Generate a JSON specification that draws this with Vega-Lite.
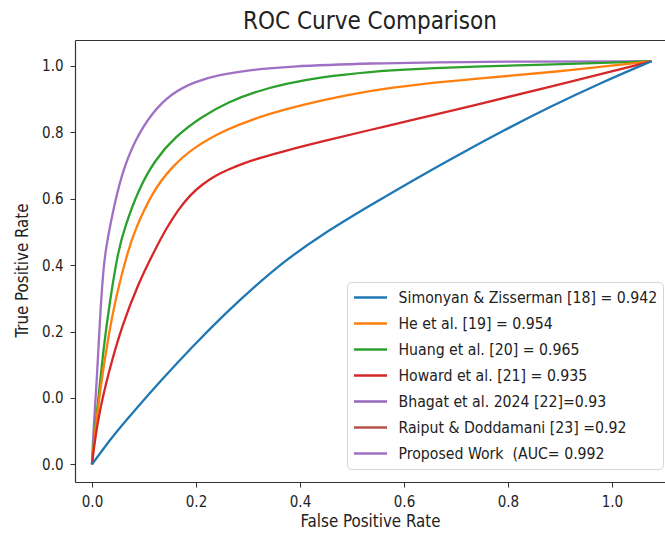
{
  "$schema": "https://vega.github.io/schema/vega-lite/v6.json",
  "autosize": "none",
  "width": 590,
  "height": 442,
  "padding": {"left": 75, "top": 40, "right": 0, "bottom": 53},
  "background": "white",
  "config": {
    "font": "DejaVu Sans Condensed",
    "view": {"stroke": null},
    "axis": {"grid": false, "domainColor": "#333333", "tickColor": "#333333", "labelColor": "#222222", "titleColor": "#222222", "titleFontWeight": "normal", "labelFontSize": 15, "titleFontSize": 16.8, "tickSize": 5, "domainWidth": 1.2}
  },
  "title": {"text": "ROC Curve Comparison", "fontSize": 24, "fontWeight": "normal", "color": "#222222", "anchor": "middle", "offset": 6},
  "data": {"values": [
    {"s": "Proposed Work \u00a0(AUC= 0.992", "x": 0, "y": -0.2},
    {"s": "Proposed Work \u00a0(AUC= 0.992", "x": 0.0025, "y": -0.105},
    {"s": "Proposed Work \u00a0(AUC= 0.992", "x": 0.009, "y": 0.045},
    {"s": "Proposed Work \u00a0(AUC= 0.992", "x": 0.0154, "y": 0.245},
    {"s": "Proposed Work \u00a0(AUC= 0.992", "x": 0.0217, "y": 0.386},
    {"s": "Proposed Work \u00a0(AUC= 0.992", "x": 0.0263, "y": 0.446},
    {"s": "Proposed Work \u00a0(AUC= 0.992", "x": 0.0379, "y": 0.546},
    {"s": "Proposed Work \u00a0(AUC= 0.992", "x": 0.0571, "y": 0.677},
    {"s": "Proposed Work \u00a0(AUC= 0.992", "x": 0.0827, "y": 0.777},
    {"s": "Proposed Work \u00a0(AUC= 0.992", "x": 0.1148, "y": 0.858},
    {"s": "Proposed Work \u00a0(AUC= 0.992", "x": 0.1533, "y": 0.918},
    {"s": "Proposed Work \u00a0(AUC= 0.992", "x": 0.198, "y": 0.953},
    {"s": "Proposed Work \u00a0(AUC= 0.992", "x": 0.243, "y": 0.973},
    {"s": "Proposed Work \u00a0(AUC= 0.992", "x": 0.307, "y": 0.988},
    {"s": "Proposed Work \u00a0(AUC= 0.992", "x": 0.371, "y": 0.998},
    {"s": "Proposed Work \u00a0(AUC= 0.992", "x": 0.535, "y": 1.008},
    {"s": "Proposed Work \u00a0(AUC= 0.992", "x": 0.727, "y": 1.013},
    {"s": "Proposed Work \u00a0(AUC= 0.992", "x": 1.076, "y": 1.014},
    {"s": "Huang et al. [20] = 0.965", "x": 0, "y": -0.2},
    {"s": "Huang et al. [20] = 0.965", "x": 0.0025, "y": -0.136},
    {"s": "Huang et al. [20] = 0.965", "x": 0.0121, "y": -0.006},
    {"s": "Huang et al. [20] = 0.965", "x": 0.0217, "y": 0.145},
    {"s": "Huang et al. [20] = 0.965", "x": 0.0346, "y": 0.295},
    {"s": "Huang et al. [20] = 0.965", "x": 0.0506, "y": 0.446},
    {"s": "Huang et al. [20] = 0.965", "x": 0.0635, "y": 0.516},
    {"s": "Huang et al. [20] = 0.965", "x": 0.089, "y": 0.627},
    {"s": "Huang et al. [20] = 0.965", "x": 0.121, "y": 0.717},
    {"s": "Huang et al. [20] = 0.965", "x": 0.16, "y": 0.787},
    {"s": "Huang et al. [20] = 0.965", "x": 0.211, "y": 0.847},
    {"s": "Huang et al. [20] = 0.965", "x": 0.262, "y": 0.892},
    {"s": "Huang et al. [20] = 0.965", "x": 0.32, "y": 0.925},
    {"s": "Huang et al. [20] = 0.965", "x": 0.371, "y": 0.946},
    {"s": "Huang et al. [20] = 0.965", "x": 0.438, "y": 0.966},
    {"s": "Huang et al. [20] = 0.965", "x": 0.535, "y": 0.983},
    {"s": "Huang et al. [20] = 0.965", "x": 0.631, "y": 0.991},
    {"s": "Huang et al. [20] = 0.965", "x": 0.727, "y": 0.998},
    {"s": "Huang et al. [20] = 0.965", "x": 0.881, "y": 1.004},
    {"s": "Huang et al. [20] = 0.965", "x": 1.076, "y": 1.014},
    {"s": "He et al. [19] = 0.954", "x": 0, "y": -0.2},
    {"s": "He et al. [19] = 0.954", "x": 0.0025, "y": -0.15},
    {"s": "He et al. [19] = 0.954", "x": 0.0154, "y": 0.024},
    {"s": "He et al. [19] = 0.954", "x": 0.0313, "y": 0.185},
    {"s": "He et al. [19] = 0.954", "x": 0.0475, "y": 0.315},
    {"s": "He et al. [19] = 0.954", "x": 0.0698, "y": 0.446},
    {"s": "He et al. [19] = 0.954", "x": 0.0827, "y": 0.506},
    {"s": "He et al. [19] = 0.954", "x": 0.1148, "y": 0.617},
    {"s": "He et al. [19] = 0.954", "x": 0.1533, "y": 0.697},
    {"s": "He et al. [19] = 0.954", "x": 0.198, "y": 0.757},
    {"s": "He et al. [19] = 0.954", "x": 0.256, "y": 0.807},
    {"s": "He et al. [19] = 0.954", "x": 0.313, "y": 0.842},
    {"s": "He et al. [19] = 0.954", "x": 0.371, "y": 0.869},
    {"s": "He et al. [19] = 0.954", "x": 0.438, "y": 0.896},
    {"s": "He et al. [19] = 0.954", "x": 0.535, "y": 0.926},
    {"s": "He et al. [19] = 0.954", "x": 0.631, "y": 0.945},
    {"s": "He et al. [19] = 0.954", "x": 0.727, "y": 0.96},
    {"s": "He et al. [19] = 0.954", "x": 0.881, "y": 0.98},
    {"s": "He et al. [19] = 0.954", "x": 1.076, "y": 1.014},
    {"s": "Howard et al. [21] = 0.935", "x": 0, "y": -0.2},
    {"s": "Howard et al. [21] = 0.935", "x": 0.0025, "y": -0.165},
    {"s": "Howard et al. [21] = 0.935", "x": 0.0121, "y": -0.056},
    {"s": "Howard et al. [21] = 0.935", "x": 0.0313, "y": 0.074},
    {"s": "Howard et al. [21] = 0.935", "x": 0.0571, "y": 0.215},
    {"s": "Howard et al. [21] = 0.935", "x": 0.089, "y": 0.345},
    {"s": "Howard et al. [21] = 0.935", "x": 0.121, "y": 0.446},
    {"s": "Howard et al. [21] = 0.935", "x": 0.1423, "y": 0.509},
    {"s": "Howard et al. [21] = 0.935", "x": 0.1654, "y": 0.566},
    {"s": "Howard et al. [21] = 0.935", "x": 0.1885, "y": 0.611},
    {"s": "Howard et al. [21] = 0.935", "x": 0.211, "y": 0.642},
    {"s": "Howard et al. [21] = 0.935", "x": 0.2365, "y": 0.669},
    {"s": "Howard et al. [21] = 0.935", "x": 0.2615, "y": 0.688},
    {"s": "Howard et al. [21] = 0.935", "x": 0.294, "y": 0.708},
    {"s": "Howard et al. [21] = 0.935", "x": 0.3227, "y": 0.723},
    {"s": "Howard et al. [21] = 0.935", "x": 0.371, "y": 0.744},
    {"s": "Howard et al. [21] = 0.935", "x": 0.4385, "y": 0.771},
    {"s": "Howard et al. [21] = 0.935", "x": 0.5346, "y": 0.807},
    {"s": "Howard et al. [21] = 0.935", "x": 0.6308, "y": 0.843},
    {"s": "Howard et al. [21] = 0.935", "x": 0.7269, "y": 0.878},
    {"s": "Howard et al. [21] = 0.935", "x": 0.8808, "y": 0.937},
    {"s": "Howard et al. [21] = 0.935", "x": 1.076, "y": 1.014},
    {"s": "Simonyan & Zisserman [18] = 0.942", "x": 0, "y": -0.2},
    {"s": "Simonyan & Zisserman [18] = 0.942", "x": 0.0379, "y": -0.118},
    {"s": "Simonyan & Zisserman [18] = 0.942", "x": 0.0827, "y": -0.036},
    {"s": "Simonyan & Zisserman [18] = 0.942", "x": 0.134, "y": 0.055},
    {"s": "Simonyan & Zisserman [18] = 0.942", "x": 0.192, "y": 0.153},
    {"s": "Simonyan & Zisserman [18] = 0.942", "x": 0.256, "y": 0.254},
    {"s": "Simonyan & Zisserman [18] = 0.942", "x": 0.313, "y": 0.336},
    {"s": "Simonyan & Zisserman [18] = 0.942", "x": 0.371, "y": 0.413},
    {"s": "Simonyan & Zisserman [18] = 0.942", "x": 0.438, "y": 0.488},
    {"s": "Simonyan & Zisserman [18] = 0.942", "x": 0.535, "y": 0.58},
    {"s": "Simonyan & Zisserman [18] = 0.942", "x": 0.631, "y": 0.668},
    {"s": "Simonyan & Zisserman [18] = 0.942", "x": 0.727, "y": 0.751},
    {"s": "Simonyan & Zisserman [18] = 0.942", "x": 0.785, "y": 0.8},
    {"s": "Simonyan & Zisserman [18] = 0.942", "x": 0.881, "y": 0.877},
    {"s": "Simonyan & Zisserman [18] = 0.942", "x": 0.977, "y": 0.948},
    {"s": "Simonyan & Zisserman [18] = 0.942", "x": 1.076, "y": 1.014}
  ]},
  "layer": [
    {
      "mark": {"type": "line", "strokeWidth": 2.3, "interpolate": "basis"},
      "encoding": {
        "x": {"field": "x", "type": "quantitative", "scale": {"domain": [-0.0327, 1.102], "nice": false, "zero": false},
              "axis": {"values": [0, 0.2, 0.4, 0.6, 0.8, 1.0], "format": ".1f", "title": "False Positive Rate", "labelPadding": 7, "titlePadding": 4}},
        "y": {"field": "y", "type": "quantitative", "scale": {"domain": [-0.253, 1.078], "nice": false, "zero": false},
              "axis": {"values": [-0.2, 0, 0.2, 0.4, 0.6, 0.8, 1.0], "labelExpr": "datum.value < -0.1 ? '0.0' : format(datum.value, '.1f')", "title": "True Positive Rate", "labelPadding": 7, "titlePadding": 10, "titleY": 230}},
        "color": {"field": "s", "type": "nominal",
          "scale": {
            "domain": ["Simonyan & Zisserman [18] = 0.942", "He et al. [19] = 0.954", "Huang et al. [20] = 0.965", "Howard et al. [21] = 0.935", "Bhagat et al. 2024 [22]=0.93", "Raiput & Doddamani [23] =0.92", "Proposed Work \u00a0(AUC= 0.992"],
            "range": ["#1f77b4", "#ff7f0e", "#2ca02c", "#d62728", "#9467bd", "#b5524a", "#a070c4"]
          },
          "legend": {"title": null, "orient": "none", "legendX": 272, "legendY": 242, "symbolType": "stroke", "symbolSize": 1089, "symbolStrokeWidth": 2.5, "labelFontSize": 15.7, "labelColor": "#222222", "labelOffset": 10, "clipHeight": 20, "rowPadding": 6, "padding": 5.5, "strokeColor": "#d5d5d5", "fillColor": "white", "cornerRadius": 4, "labelLimit": 400}
        },
        "detail": {"field": "s"}
      }
    },
    {
      "mark": {"type": "line", "opacity": 0},
      "encoding": {
        "x": {"field": "x", "type": "quantitative", "axis": {"orient": "top", "labels": false, "ticks": false, "title": null, "domain": true}},
        "y": {"field": "y", "type": "quantitative", "axis": null},
        "detail": {"field": "s"}
      }
    }
  ],
  "resolve": {"axis": {"x": "independent", "y": "independent"}}
}
